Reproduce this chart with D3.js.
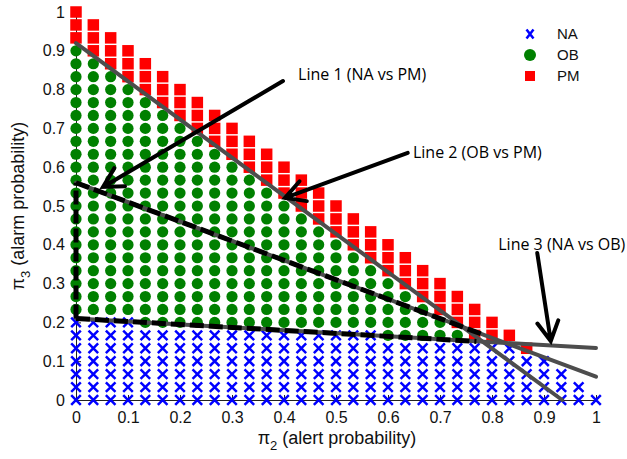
<!DOCTYPE html>
<html><head><meta charset="utf-8">
<script src="https://cdn.jsdelivr.net/npm/d3@7"></script>
<style>body{margin:0;background:#fff}svg{display:block}</style>
</head><body><svg id="c" width="627" height="459"></svg>
<script>
// ---- data ----
const gridStep = 1/30;                 // lattice spacing of (pi2, pi3)
const columnIndex = d3.range(31);      // pi2 = i * gridStep
// highest row index (pi3 = j*gridStep) per column for each class
const naTop = [6,6,6,6,5,5,5,5,5,5,5,5,5,5,5,5,5,5,4,4,4,4,4,4,4,4,3,3,2,1,0];
const obTop = [27,26,25,24,23,22,21,20,19,18,17,16,15,14,13,12,11,10,9,8,7,6,5,4,4,4,3,3,2,1,0];
const pmTop = [30,29,28,27,26,25,24,23,22,21,20,19,18,17,16,15,14,13,12,11,10,9,8,7,6,5,4,3,2,1,0];
const xTicks = [0,0.1,0.2,0.3,0.4,0.5,0.6,0.7,0.8,0.9,1];
const yTicks = [0,0.1,0.2,0.3,0.4,0.5,0.6,0.7,0.8,0.9,1];
const xTickLabels = ["0","0.1","0.2","0.3","0.4","0.5","0.6","0.7","0.8","0.9","1"];
const yTickLabels = ["0","0.1","0.2","0.3","0.4","0.5","0.6","0.7","0.8","0.9","1"];
// decision lines [[x0,y0],[x1,y1]]
const line1 = [[0,0.56],[1,0.06]];     // NA vs PM
const line2 = [[0,0.92],[0.935,0]];    // OB vs PM
const line3 = [[0,0.21],[1,0.134]];    // NA vs OB
// dashed OB boundary
const obBoundary = [[[0,0.21],[0,0.56]],[[0,0.56],[0.78,0.17]],[[0,0.21],[0.77,0.151]]];
// annotations: tail, tip, text anchor
const annotations = [
  {label:"Line 1 (NA vs PM)", tail:[0.398,0.822], tip:[0.052,0.549], text:[0.427,0.84]},
  {label:"Line 2 (OB vs PM)", tail:[0.638,0.637], tip:[0.402,0.521], text:[0.648,0.637]},
  {label:"Line 3 (NA vs OB)", tail:[0.887,0.379], tip:[0.913,0.152], text:[0.812,0.402]}
];
const legendNames = ["NA","OB","PM"];

// ---- build points ----
const points = [];
columnIndex.forEach(i => {
  for (let j = 0; j <= pmTop[i]; j++) {
    const cls = j <= naTop[i] ? "NA" : (j <= obTop[i] ? "OB" : "PM");
    points.push({x: i*gridStep, y: j*gridStep, cls});
  }
});

const svg = d3.select("#c");
const x = d3.scaleLinear().domain([0,1]).range([76,596]);
const y = d3.scaleLinear().domain([0,1]).range([400,12]);
const blue="#0000ff", green="#008000", red="#ff0000";

// axes
const xAxis = d3.axisBottom(x).tickValues(xTicks).tickFormat((d,i)=>xTickLabels[i]).tickSizeInner(-5).tickSizeOuter(0).tickPadding(12);
const yAxis = d3.axisLeft(y).tickValues(yTicks).tickFormat((d,i)=>yTickLabels[i]).tickSizeInner(-5).tickSizeOuter(0).tickPadding(11);
const gx = svg.append("g").attr("transform","translate(0,400)").call(xAxis);
const gy = svg.append("g").attr("transform","translate(76,0)").call(yAxis);
[gx,gy].forEach(g=>{
  g.selectAll("text").attr("font-family","Liberation Sans, Arial, sans-serif").attr("font-size",16).attr("fill","#111");
  g.selectAll("line,path").attr("stroke","#222");
});

// markers
const pg = svg.append("g");
const s = 11.5;
pg.selectAll("rect").data(points.filter(p=>p.cls==="PM")).join("rect")
  .attr("x",d=>x(d.x)-s/2).attr("y",d=>y(d.y)-s/2).attr("width",s).attr("height",s).attr("fill",red);
pg.selectAll("circle").data(points.filter(p=>p.cls==="OB")).join("circle")
  .attr("cx",d=>x(d.x)).attr("cy",d=>y(d.y)).attr("r",5.6).attr("fill",green);
const xm = 4.8;
pg.selectAll("path.na").data(points.filter(p=>p.cls==="NA")).join("path").attr("class","na")
  .attr("d",d=>{const cx=x(d.x),cy=y(d.y);return `M${cx-xm},${cy-xm}L${cx+xm},${cy+xm}M${cx-xm},${cy+xm}L${cx+xm},${cy-xm}`;})
  .attr("stroke",blue).attr("stroke-width",2.5).attr("fill","none");

// decision lines
const lg = svg.append("g");
[line1,line2,line3].forEach(l=>{
  lg.append("line").attr("x1",x(l[0][0])).attr("y1",y(l[0][1])).attr("x2",x(l[1][0])).attr("y2",y(l[1][1]))
    .attr("stroke","#4d4d4d").attr("stroke-width",4).attr("stroke-linecap","round");
});
obBoundary.forEach(l=>{
  lg.append("line").attr("x1",x(l[0][0])).attr("y1",y(l[0][1])).attr("x2",x(l[1][0])).attr("y2",y(l[1][1]))
    .attr("stroke","#000").attr("stroke-width",5).attr("stroke-dasharray","14,5");
});

// annotations
const ag = svg.append("g");
annotations.forEach(a=>{
  const tx=x(a.tail[0]),ty=y(a.tail[1]),hx=x(a.tip[0]),hy=y(a.tip[1]);
  const ang=Math.atan2(ty-hy,tx-hx), L=22, w=0.5;
  const p1=[hx+L*Math.cos(ang+w),hy+L*Math.sin(ang+w)], p2=[hx+L*Math.cos(ang-w),hy+L*Math.sin(ang-w)];
  ag.append("path").attr("d",`M${tx},${ty}L${hx},${hy}M${p1[0]},${p1[1]}L${hx},${hy}L${p2[0]},${p2[1]}`)
    .attr("stroke","#000").attr("stroke-width",4).attr("fill","none").attr("stroke-linecap","round").attr("stroke-linejoin","miter");
  ag.append("text").attr("x",x(a.text[0])).attr("y",y(a.text[1])).attr("dy","0.35em")
    .attr("font-family","Open Sans, sans-serif").attr("font-size",16).attr("fill","#000").text(a.label);
});

// legend
const leg = svg.append("g");
legendNames.forEach((n,k)=>{
  const cy = 34 + k*21, cx = 530;
  if(n==="NA") leg.append("path").attr("d",`M${cx-3.5},${cy-4.5}L${cx+3.5},${cy+4.5}M${cx-3.5},${cy+4.5}L${cx+3.5},${cy-4.5}`).attr("stroke",blue).attr("stroke-width",2.5);
  if(n==="OB") leg.append("circle").attr("cx",cx).attr("cy",cy).attr("r",6).attr("fill",green);
  if(n==="PM") leg.append("rect").attr("x",cx-5).attr("y",cy-5).attr("width",10).attr("height",10).attr("fill",red);
  leg.append("text").attr("x",557).attr("y",cy).attr("dy","0.35em").attr("font-family","Liberation Sans, Arial, sans-serif").attr("font-size",15).attr("fill","#111").text(n);
});

// axis titles
const xt = svg.append("text").attr("x",337).attr("y",444).attr("text-anchor","middle")
  .attr("font-family","Liberation Sans, Arial, sans-serif").attr("font-size",18).attr("fill","#111");
xt.append("tspan").text("π");
xt.append("tspan").attr("font-size",13).attr("dy",6).text("2");
xt.append("tspan").attr("dy",-6).text(" (alert probability)");
const yt = svg.append("text").attr("transform","translate(24,206) rotate(-90)").attr("text-anchor","middle")
  .attr("font-family","Liberation Sans, Arial, sans-serif").attr("font-size",18).attr("fill","#111");
yt.append("tspan").text("π");
yt.append("tspan").attr("font-size",13).attr("dy",6).text("3");
yt.append("tspan").attr("dy",-6).text(" (alarm probability)");
</script></body></html>
